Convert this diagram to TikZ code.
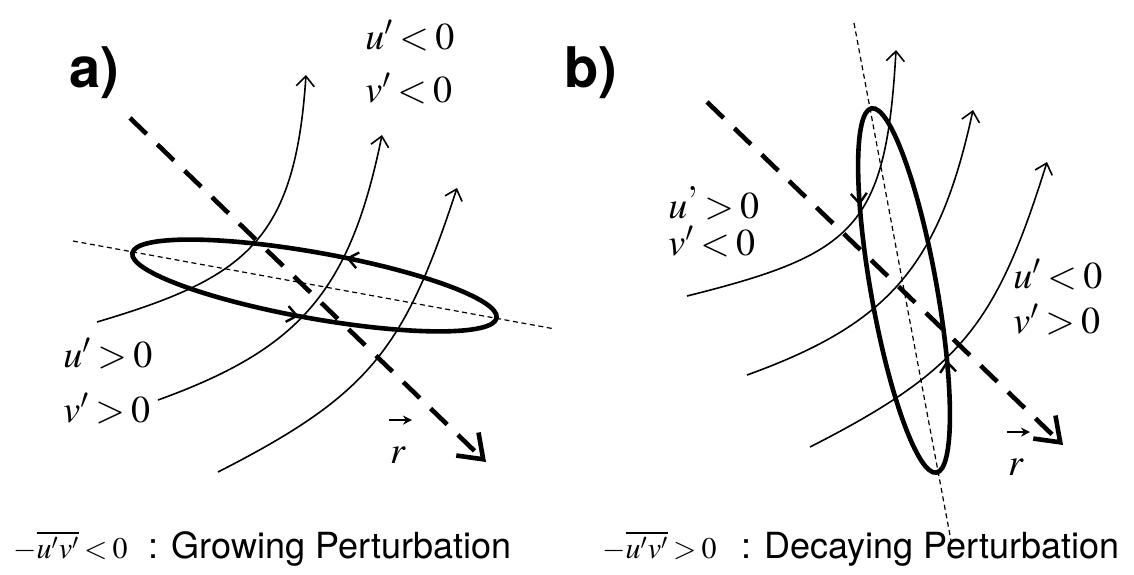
\documentclass[tikz,border=0pt]{standalone}
\usepackage{amsmath}
\usepackage{mathptmx}
\usepackage{fontspec}
\usetikzlibrary{arrows.meta,decorations.markings,positioning}
\newfontfamily\heros{TeX Gyre Heros}
\thickmuskip=3mu plus 2mu
\tikzset{
  flowline/.style={line width=0.8pt,-{Straight Barb[length=5pt,width=9pt]}},
  ell/.style={line width=2.3pt},
  majax/.style={line width=0.6pt,dash pattern=on 2.5pt off 1.8pt},
  rdir/.style={line width=2.3pt,dash pattern=on 11.5pt off 7.5pt,
               -{Straight Barb[length=11pt,width=16pt]}},
  vecr/.style={line width=1pt,-{Stealth[length=4.5pt,width=4.5pt]}},
  turn/.style 2 args={postaction={decorate,decoration={markings,
      mark=at position #1 with {\arrowreversed{Straight Barb[length=5pt,width=8pt,line width=1.2pt]}},
      mark=at position #2 with {\arrowreversed{Straight Barb[length=5pt,width=8pt,line width=1.2pt]}}}}},
  lbl/.style={inner sep=0pt,anchor=base west,font=\fontsize{19}{22}\selectfont},
  panel/.style={inner sep=0pt,anchor=base west,font=\heros\bfseries\fontsize{28}{32}\selectfont},
  capmath/.style={inner sep=0pt,anchor=base west,font=\fontsize{15}{18}\selectfont},
  captxt/.style={inner sep=0pt,anchor=base west,font=\heros\fontsize{18}{21}\selectfont},
}
\begin{document}
\begin{tikzpicture}[x=0.5pt,y=-0.5pt]
  \useasboundingbox (0,0) rectangle (1134,574);

  % a) growing
  \node[panel] (pa) at (69,87) {a)};
  \node[lbl] (ua1) at (365,49) {$u'<0$};
  \node[lbl] (va1) at (365,102) {$v'<0$};
  \node[lbl] (ua2) at (63,367) {$u'>0$};
  \node[lbl] (va2) at (63,422) {$v'>0$};
  \node[lbl,anchor=base] (rva) at (398,463) {$r$};
  \draw[vecr] ([xshift=-4.5pt,yshift=13pt]rva.north) -- ([xshift=7pt,yshift=13pt]rva.north);

  \coordinate (ca) at (314.5,285.5);
  \coordinate (xa0) at (73,241);
  \coordinate (xa1) at (555,329);
  \draw[majax] (xa0) -- (xa1);
  \draw[ell,turn={0.263}{0.784},rotate around={-10.1:(ca)}] (ca) ellipse [x radius=185,y radius=33];

  \coordinate (fa1) at (97,322);  \coordinate (ta1) at (306,75);
  \coordinate (fa2) at (158,400); \coordinate (ta2) at (382,135);
  \coordinate (fa3) at (218,472); \coordinate (ta3) at (457,188);
  \draw[flowline] (fa1) .. controls (245,278) and (295,242) .. (ta1);
  \draw[flowline] (fa2) .. controls (299,349) and (350,292) .. (ta2);
  \draw[flowline] (fa3) .. controls (369,395) and (404,350) .. (ta3);

  \coordinate (da0) at (130,118);
  \coordinate (da1) at (486,462);
  \draw[rdir] (da0) -- (da1);

  \node[capmath] (ma) at (13,558) {$-\overline{u'v'}<0$};
  \node[captxt] (ga) at ([xshift=10pt]ma.base east) {: Growing Perturbation};

  % b) decaying
  \node[panel] (pb) at (564,87) {b)};
  \node[lbl] (ub1) at (668,218) {$u\raisebox{14pt}{$,$}>0$};
  \node[lbl] (vb1) at (668,255) {$v'<0$};
  \node[lbl] (ub2) at (1013,288) {$u'<0$};
  \node[lbl] (vb2) at (1013,333) {$v'>0$};
  \node[lbl,anchor=base] (rvb) at (1016,475) {$r$};
  \draw[vecr] ([xshift=-4.5pt,yshift=13pt]rvb.north) -- ([xshift=7pt,yshift=13pt]rvb.north);

  \coordinate (cb) at (904,290.5);
  \coordinate (xb0) at (854,23);
  \coordinate (xb1) at (952,546);
  \draw[majax] (xb0) -- (xb1);
  \draw[ell,turn={0.369}{0.849},rotate around={-79.9:(cb)}] (cb) ellipse [x radius=185,y radius=33];

  \coordinate (fb1) at (687,296); \coordinate (tb1) at (896,50);
  \coordinate (fb2) at (747,375); \coordinate (tb2) at (973,110);
  \coordinate (fb3) at (810,447); \coordinate (tb3) at (1047,162);
  \draw[flowline] (fb1) .. controls (855,254) and (886,228) .. (tb1);
  \draw[flowline] (fb2) .. controls (888,324) and (939,267) .. (tb2);
  \draw[flowline] (fb3) .. controls (961,370) and (996,325) .. (tb3);

  \coordinate (db0) at (707,102);
  \coordinate (db1) at (1063,445);
  \draw[rdir] (db0) -- (db1);

  \node[capmath] (mb) at (602,558) {$-\overline{u'v'}>0$};
  \node[captxt] (gb) at ([xshift=12pt]mb.base east) {: Decaying Perturbation};
\end{tikzpicture}
\end{document}
